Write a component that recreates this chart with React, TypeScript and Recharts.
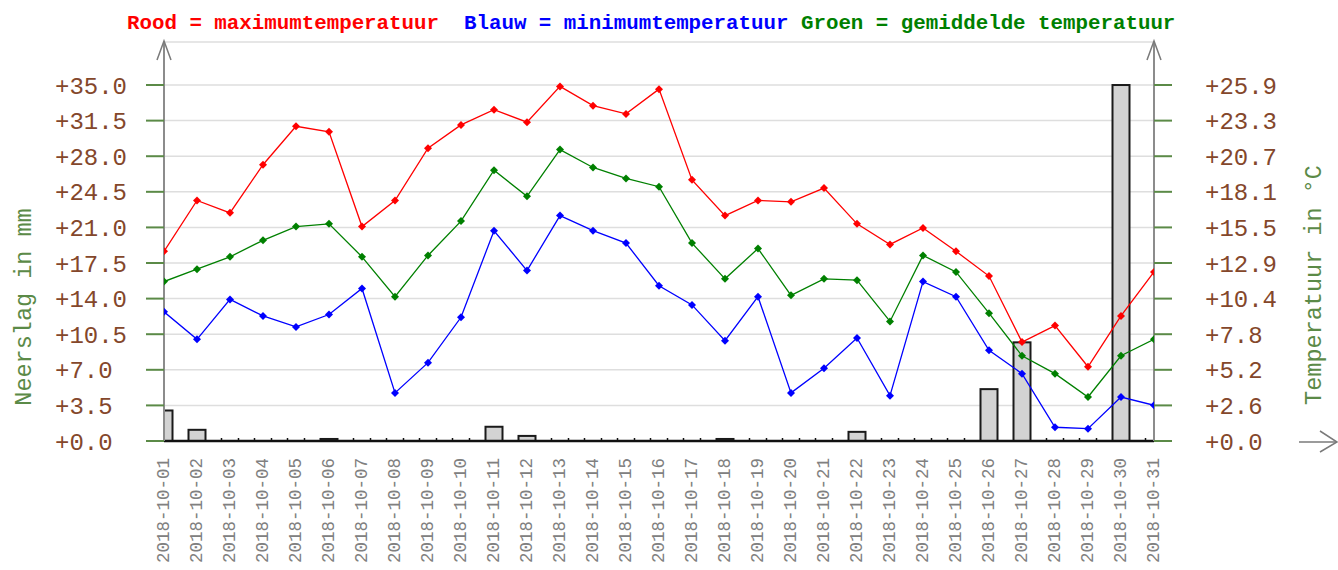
import React from "react";
import { ComposedChart, Bar, Line, XAxis, YAxis, CartesianGrid } from "recharts";

const days = [
  "2018-10-01","2018-10-02","2018-10-03","2018-10-04","2018-10-05","2018-10-06","2018-10-07","2018-10-08",
  "2018-10-09","2018-10-10","2018-10-11","2018-10-12","2018-10-13","2018-10-14","2018-10-15","2018-10-16",
  "2018-10-17","2018-10-18","2018-10-19","2018-10-20","2018-10-21","2018-10-22","2018-10-23","2018-10-24",
  "2018-10-25","2018-10-26","2018-10-27","2018-10-28","2018-10-29","2018-10-30","2018-10-31",
];
const maxTemp = [13.8,17.5,16.6,20.1,22.9,22.5,15.6,17.5,21.3,23.0,24.1,23.2,25.8,24.4,23.8,25.6,19.0,16.4,17.5,17.4,18.4,15.8,14.3,15.5,13.8,12.0,7.2,8.4,5.4,9.1,12.3];
const avgTemp = [11.6,12.5,13.4,14.6,15.6,15.8,13.4,10.5,13.5,16.0,19.7,17.8,21.2,19.9,19.1,18.5,14.4,11.8,14.0,10.6,11.8,11.7,8.7,13.5,12.3,9.3,6.2,4.9,3.2,6.2,7.4];
const minTemp = [9.4,7.4,10.3,9.1,8.3,9.2,11.1,3.5,5.7,9.0,15.3,12.4,16.4,15.3,14.4,11.3,9.9,7.3,10.5,3.5,5.3,7.5,3.3,11.6,10.5,6.6,4.9,1.0,0.9,3.2,2.6];
const rain = [3.0,1.1,0,0,0,0.2,0,0,0,0,1.4,0.5,0,0,0,0,0,0.2,0,0,0,0.9,0,0,0,5.1,9.7,0,0,35.0,0];

const leftTicks = [0, 3.5, 7, 10.5, 14, 17.5, 21, 24.5, 28, 31.5, 35];
const leftTickLabels = ["+0.0","+3.5","+7.0","+10.5","+14.0","+17.5","+21.0","+24.5","+28.0","+31.5","+35.0"];
const rightTicks = [0, 2.59, 5.18, 7.77, 10.36, 12.95, 15.54, 18.13, 20.72, 23.31, 25.9];
const rightTickLabels = ["+0.0","+2.6","+5.2","+7.8","+10.4","+12.9","+15.5","+18.1","+20.7","+23.3","+25.9"];

const data = days.map((d, i) => ({
  x: i + 1,
  date: d,
  rain: rain[i],
  max: maxTemp[i],
  avg: avgTemp[i],
  min: minTemp[i],
}));
const xTicks = days.map((_, i) => i + 1);

const BROWN = "#84472b";
const AXGREEN = "#5b8a47";
const MONO = "'Liberation Mono', 'DejaVu Sans Mono', monospace";

const LeftTick = (props: any) => {
  const { y, index } = props;
  return (
    <text x={55} y={y} dy="0.36em" textAnchor="start" fontFamily={MONO} fontSize={24} fill={BROWN}>
      {leftTickLabels[index]}
    </text>
  );
};
const RightTick = (props: any) => {
  const { y, index } = props;
  return (
    <text x={1205} y={y} dy="0.36em" textAnchor="start" fontFamily={MONO} fontSize={24} fill={BROWN}>
      {rightTickLabels[index]}
    </text>
  );
};
const XTick = (props: any) => {
  const { x, index } = props;
  return (
    <text
      x={0}
      y={0}
      transform={`translate(${x - 1},458) rotate(-90)`}
      dy="0.36em"
      textAnchor="end"
      fontFamily={MONO}
      fontSize={17.5}
      fill="#808080"
    >
      {days[index]}
    </text>
  );
};

const BarShape = (props: any) => {
  const { x, y, width, height } = props;
  if (!height || height < 1) {
    const base = y + (height || 0);
    return (
      <g>
        <line x1={x} x2={x} y1={base - 3} y2={base} stroke="#111" strokeWidth={1.5} />
        <line x1={x + width} x2={x + width} y1={base - 3} y2={base} stroke="#111" strokeWidth={1.5} />
      </g>
    );
  }
  return <rect x={x} y={y} width={width} height={height} fill="#d3d3d3" stroke="#1a1a1a" strokeWidth={2} />;
};

const makeDot = (color: string) => (props: any) => {
  const { cx, cy, index } = props;
  if (cx == null || cy == null) return <g key={index} />;
  const r = 4;
  return (
    <path
      key={index}
      d={`M${cx},${cy - r}L${cx + r},${cy}L${cx},${cy + r}L${cx - r},${cy}Z`}
      fill={color}
      stroke="none"
    />
  );
};

export default function App() {
  return (
    <div style={{ position: "absolute", left: 0, top: 0, width: 1338, height: 570, background: "#fff" }}>
      <ComposedChart
        width={1338}
        height={570}
        data={data}
        margin={{ top: 42, right: 0, bottom: 0, left: 0 }}
      >
        <CartesianGrid yAxisId="left" vertical={false} stroke="#dedede" strokeWidth={1.5} />
        <XAxis
          dataKey="x"
          type="number"
          domain={[1, 31]}
          ticks={xTicks}
          interval={0}
          allowDataOverflow
          height={129}
          tickLine={false}
          axisLine={{ stroke: "#111", strokeWidth: 2.5 }}
          tick={<XTick />}
        />
        <YAxis
          yAxisId="left"
          orientation="left"
          width={164}
          domain={[0, 39.23]}
          ticks={leftTicks}
          interval={0}
          allowDataOverflow
          tickSize={18}
          tickLine={{ stroke: AXGREEN, strokeWidth: 2 }}
          axisLine={{ stroke: "#8c8c8c", strokeWidth: 2 }}
          tick={<LeftTick />}
        />
        <YAxis
          yAxisId="right"
          orientation="right"
          width={184}
          domain={[0, 29.03]}
          ticks={rightTicks}
          interval={0}
          allowDataOverflow
          tickSize={18}
          tickLine={{ stroke: AXGREEN, strokeWidth: 2 }}
          axisLine={{ stroke: "#8c8c8c", strokeWidth: 2 }}
          tick={<RightTick />}
        />
        <Bar yAxisId="left" dataKey="rain" barSize={17} shape={<BarShape />} isAnimationActive={false} />
        <Line yAxisId="right" dataKey="max" stroke="#ff0000" strokeWidth={1.3} dot={makeDot("#ff0000")} activeDot={false} isAnimationActive={false} />
        <Line yAxisId="right" dataKey="min" stroke="#0000ff" strokeWidth={1.3} dot={makeDot("#0000ff")} activeDot={false} isAnimationActive={false} />
        <Line yAxisId="right" dataKey="avg" stroke="#008000" strokeWidth={1.3} dot={makeDot("#008000")} activeDot={false} isAnimationActive={false} />
      </ComposedChart>
      <svg
        width={1338}
        height={570}
        style={{ position: "absolute", left: 0, top: 0, pointerEvents: "none" }}
      >
        <text x={127} y={29} fontFamily={MONO} fontWeight="bold" fontSize={20.8} xmlSpace="preserve" style={{ whiteSpace: "pre" }}>
          <tspan fill="#ff0000">Rood = maximumtemperatuur</tspan>
          <tspan fill="#0000ff">{"  Blauw = minimumtemperatuur"}</tspan>
          <tspan fill="#008000">{" Groen = gemiddelde temperatuur"}</tspan>
        </text>
        <text
          transform="translate(23,307) rotate(-90)"
          textAnchor="middle"
          dy="0.36em"
          fontFamily={MONO}
          fontSize={23.5}
          fill={AXGREEN}
        >
          Neerslag in mm
        </text>
        <text
          transform="translate(1313,285) rotate(-90)"
          textAnchor="middle"
          dy="0.36em"
          fontFamily={MONO}
          fontSize={23.5}
          fill={AXGREEN}
        >
          Temperatuur in °C
        </text>
        <polyline points="157,60 164,41 171,60" fill="none" stroke="#7a7a7a" strokeWidth={1.5} />
        <polyline points="1147,60 1154,41 1161,60" fill="none" stroke="#7a7a7a" strokeWidth={1.5} />
        <line x1={1299} y1={442} x2={1337} y2={442} stroke="#7a7a7a" strokeWidth={1.5} />
        <polyline points="1320,431 1337,442 1320,452" fill="none" stroke="#7a7a7a" strokeWidth={1.5} />
      </svg>
    </div>
  );
}
